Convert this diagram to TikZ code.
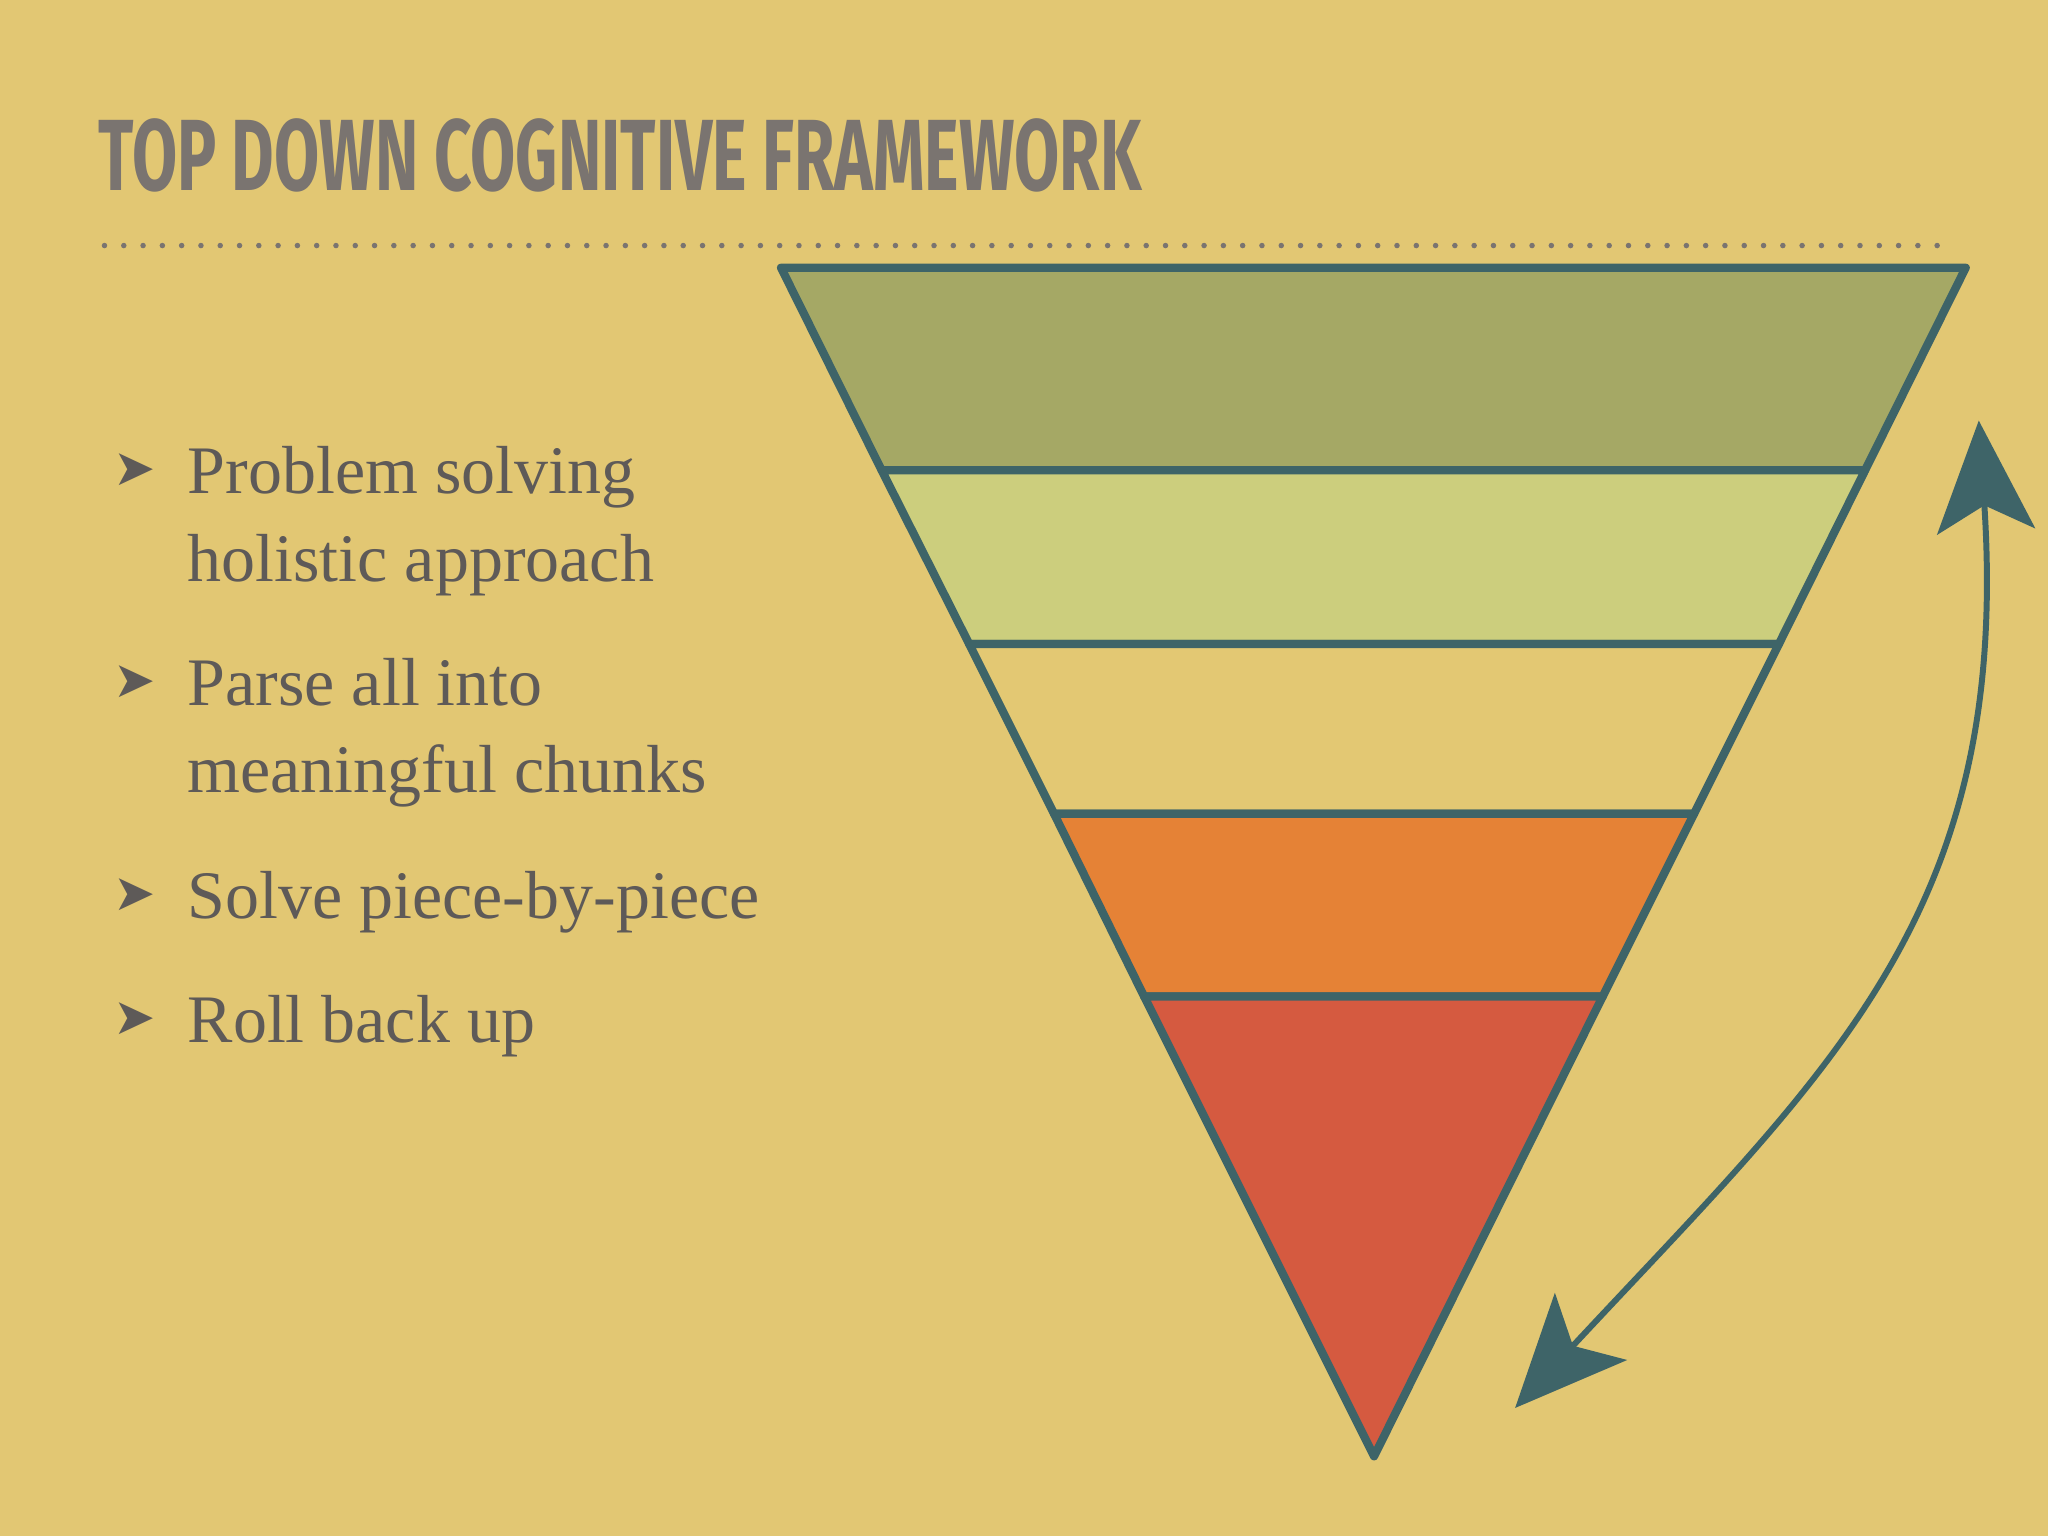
\documentclass[tikz,border=0pt]{standalone}
\usepackage{fontspec}
\setmainfont{Liberation Serif}
\newfontfamily\titlefont{Fira Sans}
\newfontfamily\symfont{DejaVu Sans}
\usetikzlibrary{arrows.meta}
\definecolor{bg}{HTML}{E2C773}
\definecolor{ink}{HTML}{3E6468}
\definecolor{txt}{HTML}{5E5A58}
\definecolor{ttl}{HTML}{7A7470}
\definecolor{cA}{HTML}{A5A865}
\definecolor{cB}{HTML}{CCCE7D}
\definecolor{cC}{HTML}{E3C873}
\definecolor{cD}{HTML}{E58236}
\definecolor{cE}{HTML}{D55A40}
\tikzset{band/.style={draw=ink,line width=1.8pt,line join=round},
bul/.style={anchor=base west,text=txt,font=\fontsize{14.8}{19}\selectfont,inner sep=0pt},
mk/.style={anchor=base west,text=txt,font=\symfont\fontsize{11}{13}\selectfont,inner sep=0pt}}
\begin{document}
\begin{tikzpicture}[x=0.01cm,y=-0.01cm]
\fill[bg] (0,0) rectangle (1568,1176);
\useasboundingbox (0,0) rectangle (1568,1176);
\node[anchor=south west,inner sep=0pt,text=ttl] (title) at (75,148) {\resizebox{7.98cm}{0.55cm}{\titlefont\bfseries TOP DOWN COGNITIVE FRAMEWORK}};
\draw[ttl,line width=1.2pt,line cap=round,dash pattern=on 0pt off 4.2pt] (80,188) -- (1490,188);
\coordinate (tl) at (598,205); \coordinate (tr) at (1505,205);
\coordinate (l1) at (675,360); \coordinate (r1) at (1428,360);
\coordinate (l2) at (742,493); \coordinate (r2) at (1362,493);
\coordinate (l3) at (807,623); \coordinate (r3) at (1297,623);
\coordinate (l4) at (876,763); \coordinate (r4) at (1227,763);
\coordinate (bt) at (1052,1115);
\filldraw[band,fill=cA] (tl) -- (tr) -- (r1) -- (l1) -- cycle;
\filldraw[band,fill=cB] (l1) -- (r1) -- (r2) -- (l2) -- cycle;
\filldraw[band,fill=cC] (l2) -- (r2) -- (r3) -- (l3) -- cycle;
\filldraw[band,fill=cD] (l3) -- (r3) -- (r4) -- (l4) -- cycle;
\filldraw[band,fill=cE] (l4) -- (r4) -- (bt) -- cycle;
\coordinate (au) at (1515,322); \coordinate (ad) at (1160,1078);
\draw[ink,line width=1.3pt,{Stealth[length=0.85cm,width=0.75cm,inset=0.2cm]}-{Stealth[length=0.85cm,width=0.75cm,inset=0.2cm]}] (au) .. controls (1540,700) and (1400,820) .. (ad);
\node[mk] (m1) at (86,372) {➤}; \node[bul] (b1) at (143,378) {Problem solving};
\node[bul] (b1b) at (143,445) {holistic approach};
\node[mk] (m2) at (86,534) {➤}; \node[bul] (b2) at (143,540) {Parse all into};
\node[bul] (b2b) at (143,607) {meaningful chunks};
\node[mk] (m3) at (86,697) {➤}; \node[bul] (b3) at (143,703) {Solve piece-by-piece};
\node[mk] (m4) at (86,792) {➤}; \node[bul] (b4) at (143,798) {Roll back up};
\end{tikzpicture}
\end{document}
